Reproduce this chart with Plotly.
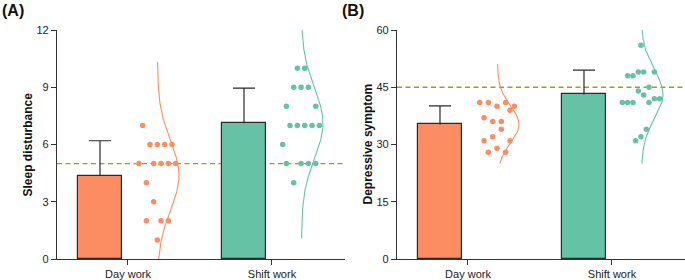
import numpy as np
import plotly.graph_objects as go

# ---------------- data ----------------
groups = ["Day work", "Shift work"]
group_pos = [0, 1]

sleep_day = [7, 6, 6, 6, 6, 5, 5, 5, 5, 5, 4, 3, 2, 2, 2, 1]
sleep_shift = [10, 10, 9, 9, 9, 8, 8, 7, 7, 7, 7, 7, 6, 5, 5, 5, 5, 4]
dep_day = [41, 41, 41, 40, 40, 39, 37, 36, 36, 34, 32, 31, 31, 29, 28, 28]
dep_shift = [56, 49, 49, 49, 48, 48, 45, 44, 43, 42, 42, 41, 41, 41, 41, 34, 32, 31]

sleep_cutoff = 5
dep_cutoff = 45

sleep_ticks = [0, 3, 6, 9, 12]
dep_ticks = [0, 15, 30, 45, 60]

# jitter slot indices of the dots (layout only)
sleep_day_jitter = [1, 3, 5, 7, 9, 0, 4, 6, 8, 10, 2, 4, 2, 6, 8, 5]
sleep_shift_jitter = [4, 6, 3, 5, 7, 1, 9, 2, 4, 6, 8, 10, 0, 1, 5, 7, 9, 3]
dep_day_jitter = [0, 2, 6, 4, 8, 7, 1, 3, 5, 5, 3, 1, 7, 4, 2, 6]
dep_shift_jitter = [7, 6, 8, 12, 2, 4, 10, 6, 8, 12, 14, 0, 2, 4, 10, 9, 7, 5]

# ---------------- style ----------------
colors = ["#FC8D62", "#66C2A5"]
axis_col = "#333333"
err_col = "#2a2a2a"
cut_col = "#A09B2E"
FONT = "Arial, 'Liberation Sans', sans-serif"

W, H = 685, 280
ML, MR, MT, MB = 57, 0, 30, 18
plot_w = W - ML - MR
sub_w = 288
PX = 2.0 / sub_w  # x units per pixel (range spans 2 units)

bar_off = -28 * PX
bar_w = 44 * PX
curve_off = 29.5 * PX
curve_w = 21.5 * PX

panels = [
    dict(vals=[sleep_day, sleep_shift], jit=[sleep_day_jitter, sleep_shift_jitter],
         jstart=[11.0, 10.7], jstep=[3.67, 3.67], ticks=sleep_ticks, cutoff=sleep_cutoff,
         floor=0, title="Sleep disturbance", label="(A)", dom=[0, sub_w / plot_w]),
    dict(vals=[dep_day, dep_shift], jit=[dep_day_jitter, dep_shift_jitter],
         jstart=[11.7, 10.3], jstep=[4.33, 2.67], ticks=dep_ticks, cutoff=dep_cutoff,
         floor=25, title="Depressive symptom", label="(B)", dom=[1 - sub_w / plot_w, 1]),
]

fig = go.Figure()
annotations = []
shapes = []

for pi, p in enumerate(panels):
    xa = "x" if pi == 0 else "x2"
    ya = "y" if pi == 0 else "y2"
    ymax = p["ticks"][-1]
    for gi in range(2):
        v = np.array(p["vals"][gi], dtype=float)
        m = v.mean()
        sd = v.std(ddof=1)
        c = colors[gi]
        gx = group_pos[gi]
        # bar with SD error line (upward only, no cap at the bar top)
        fig.add_trace(go.Bar(
            x=[gx + bar_off], y=[m], width=[bar_w], xaxis=xa, yaxis=ya,
            marker=dict(color=c, line=dict(color=err_col, width=1.2)),
            error_y=dict(type="data", symmetric=False, array=[sd], arrayminus=[0],
                         color=err_col, thickness=1.2, width=0),
            showlegend=False, hoverinfo="skip"))
        # cap at mean + SD
        fig.add_trace(go.Scatter(
            x=[gx + bar_off], y=[m + sd], mode="markers", xaxis=xa, yaxis=ya,
            marker=dict(size=1, color="rgba(0,0,0,0)"),
            error_y=dict(type="data", symmetric=False, array=[0], arrayminus=[0],
                         color=err_col, thickness=1.2, width=11),
            showlegend=False, hoverinfo="skip"))
        # dots
        xs = [gx + (p["jstart"][gi] + j * p["jstep"][gi]) * PX for j in p["jit"][gi]]
        fig.add_trace(go.Scatter(
            x=xs, y=v, mode="markers", xaxis=xa, yaxis=ya,
            marker=dict(color=c, size=5.5, line=dict(width=0)),
            showlegend=False, hoverinfo="skip"))
        # half normal curve
        lo = max(m - 3.27 * sd, p["floor"])
        hi = min(m + 3.27 * sd, ymax)
        yy = np.linspace(lo, hi, 200)
        dens = np.exp(-0.5 * ((yy - m) / sd) ** 2)
        fig.add_trace(go.Scatter(
            x=gx + curve_off + curve_w * dens, y=yy, mode="lines", xaxis=xa, yaxis=ya,
            line=dict(color=c, width=1.1), showlegend=False, hoverinfo="skip"))
    shapes.append(dict(type="line", xref=f"{xa} domain", yref=ya, x0=0, x1=1,
                       y0=p["cutoff"], y1=p["cutoff"], layer="below",
                       line=dict(color=cut_col, width=1.3, dash="5px,3.5px")))
    # y title
    d0 = p["dom"][0]
    annotations.append(dict(text=f"<b>{p['title']}</b>", textangle=-90, xref="paper", yref="paper",
                            x=d0 + (-30) / plot_w, y=0.5, xanchor="center", yanchor="middle",
                            showarrow=False, font=dict(size=12, color="#111", family=FONT)))
    annotations.append(dict(text=f"<b>{p['label']}</b>", xref="paper", yref="paper",
                            x=d0 + (-57) / plot_w, y=1 + 20 / (H - MT - MB), xanchor="left",
                            yanchor="middle", showarrow=False,
                            font=dict(size=16, color="#111", family=FONT)))

axis_common = dict(showline=True, linecolor=axis_col, linewidth=1.3, ticks="outside",
                   ticklen=5, tickwidth=1.2, tickcolor=axis_col, showgrid=False,
                   zeroline=False, tickfont=dict(size=11, color="#222", family=FONT))

layout = dict(
    width=W, height=H, margin=dict(l=ML, r=MR, t=MT, b=MB),
    plot_bgcolor="white", paper_bgcolor="white", font=dict(family=FONT),
    annotations=annotations, shapes=shapes, bargap=0, barmode="overlay",
)
for pi, p in enumerate(panels):
    sx = "" if pi == 0 else "2"
    layout[f"xaxis{sx}"] = dict(axis_common, domain=p["dom"], range=[-0.493, 1.507],
                                tickvals=group_pos, ticktext=groups, anchor=f"y{sx}")
    layout[f"yaxis{sx}"] = dict(axis_common, range=[0, p["ticks"][-1]], tickvals=p["ticks"],
                                anchor=f"x{sx}")

fig.update_layout(**layout)
fig.write_html("out.html", config={"displayModeBar": False},
               post_script="document.body.style.margin='0';document.body.style.overflow='hidden';")
